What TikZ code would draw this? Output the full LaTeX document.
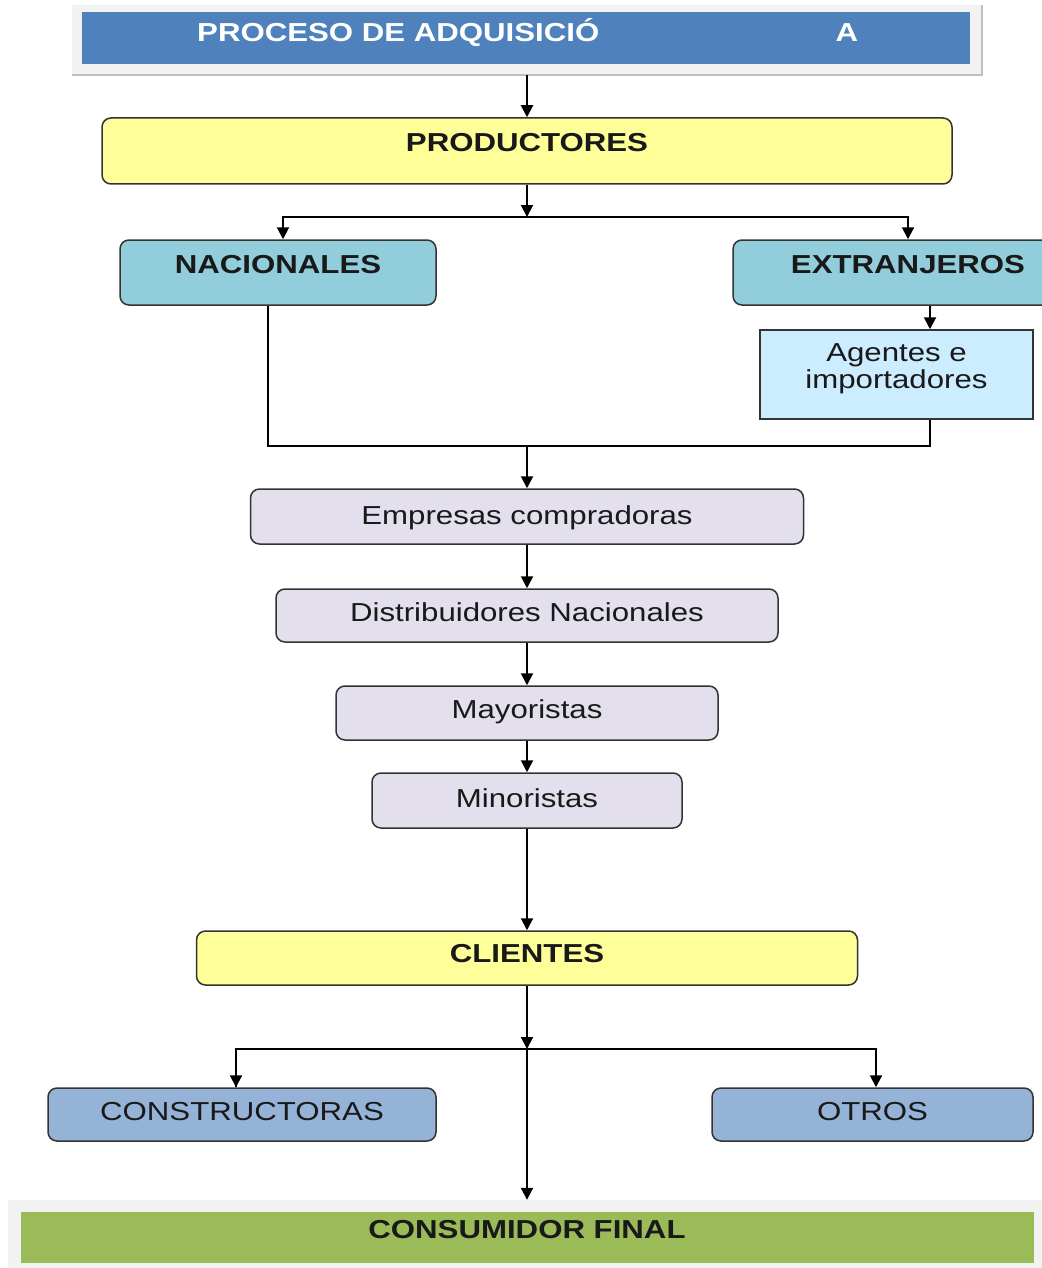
\documentclass[tikz,border=0pt]{standalone}
\usepackage{fontspec}
\setmainfont{Liberation Sans}[FakeStretch=1.2]
\usetikzlibrary{arrows.meta, positioning, calc}
\definecolor{titleblue}{RGB}{79,129,189}
\definecolor{panel}{RGB}{242,242,242}
\definecolor{yel}{RGB}{255,255,153}
\definecolor{teal}{RGB}{146,205,220}
\definecolor{agblue}{RGB}{204,236,255}
\definecolor{lav}{RGB}{228,223,236}
\definecolor{slate}{RGB}{149,179,215}
\definecolor{grass}{RGB}{155,187,89}

\begin{document}
\begin{tikzpicture}[x=1pt, y=-1pt,
   every node/.style={font=\fontsize{26}{27}\selectfont, text=black!90},
   box/.style={draw=black!80, line width=1.5pt, rounded corners=9pt, inner sep=0pt, text height=19pt},
   hd/.style={box, font=\fontsize{26}{27}\selectfont\bfseries},
   arr/.style={-{Triangle[width=12pt,length=12pt]}, line width=2pt, black},
   ln/.style={line width=1.7pt, black}]

  \fill[white] (0,0) rectangle (1041,1268);
  \useasboundingbox (0,0) rectangle (1041,1268);

  % title bar
  \node[fill=panel, minimum width=910, minimum height=70, inner sep=0pt] (titlebg) at (527,40) {};
  \draw[gray!50, line width=2pt] (titlebg.south west) -- (titlebg.south east) -- (titlebg.north east);
  \node[fill=titleblue, minimum width=888, minimum height=52, inner sep=0pt] (title) at (526,38) {};
  \node[anchor=base west, inner sep=0pt, text=white, font=\fontsize{26}{27}\selectfont\bfseries] (titleA) at (197,42) {PROCESO DE ADQUISICIÓ};
  \node[anchor=base, inner sep=0pt, text=white, font=\fontsize{26}{27}\selectfont\bfseries] (titleB) at (847,42) {A};

  % productores
  \node[hd, fill=yel, minimum width=850, minimum height=66, text depth=18.4pt] (prod) at (527,151) {PRODUCTORES};
  \node[hd, fill=teal, minimum width=316, minimum height=65, text depth=17.4pt] (nac) at (278,272.5) {NACIONALES};
  \node[hd, fill=teal, minimum width=350, minimum height=65, text depth=17.4pt] (ext) at (908,272.5) {EXTRANJEROS};
  \node[box, rounded corners=0pt, fill=agblue, minimum width=273, minimum height=89, align=center, text height=46pt, text depth=19pt] (ag) at (896.5,374.5) {Agentes e\\importadores};

  \coordinate (split1) at (527,217);
  \coordinate (merge) at (527,446);
  \draw[arr] (titlebg) -- (prod);
  \draw[arr] (prod) -- (split1);
  \draw[arr] (split1) -| ([xshift=5pt]nac.north);
  \draw[arr] (split1) -| (ext.north);
  \draw[arr] ([xshift=33.5pt]ag.north |- ext.south) -- ([xshift=33.5pt]ag.north);
  \draw[ln] ([xshift=-10pt]nac.south) |- (merge) -| ([xshift=33.5pt]ag.south);

  % cadena de distribucion
  \node[box, fill=lav, minimum width=553, minimum height=55, text depth=3.4pt] (emp) at (527,516.5) {Empresas compradoras};
  \node[box, fill=lav, minimum width=502, minimum height=53, text depth=7.4pt] (dist) at (527,615.5) {Distribuidores Nacionales};
  \node[box, fill=lav, minimum width=382, minimum height=54, text depth=8.4pt] (may) at (527,713) {Mayoristas};
  \node[box, fill=lav, minimum width=310, minimum height=55, text depth=5.4pt] (mino) at (527,800.5) {Minoristas};
  \draw[arr] (merge) -- (emp);
  \draw[arr] (emp) -- (dist);
  \draw[arr] (dist) -- (may);
  \draw[arr] (may) -- (mino);

  % clientes
  \node[hd, fill=yel, minimum width=661, minimum height=54, text depth=10.4pt] (cli) at (527,958) {CLIENTES};
  \node[box, fill=slate, minimum width=388, minimum height=53, text depth=7.4pt] (constr) at (242,1114.5) {CONSTRUCTORAS};
  \node[box, fill=slate, minimum width=321, minimum height=53, text depth=7.4pt] (otros) at (872.5,1114.5) {OTROS};
  \node[fill=panel, minimum width=1040, minimum height=68, inner sep=0pt] (consbg) at (528,1234) {};
  \node[hd, draw=none, rounded corners=0pt, fill=grass, minimum width=1013, minimum height=51, text depth=17.4pt] (cons) at (527,1237.5) {CONSUMIDOR FINAL};

  \coordinate (split2) at (527,1049);
  \draw[arr] (mino) -- (cli);
  \draw[arr] (cli) -- (split2);
  \draw[ln] (split2) -| ([xshift=-6pt]constr.north);
  \draw[arr] ([xshift=-6pt]constr.north |- split2) -- ([xshift=-6pt]constr.north);
  \draw[arr] (split2) -| ([xshift=3.5pt]otros.north);
  \draw[arr] (split2) -- (split2 |- consbg.north);
\end{tikzpicture}
\end{document}
